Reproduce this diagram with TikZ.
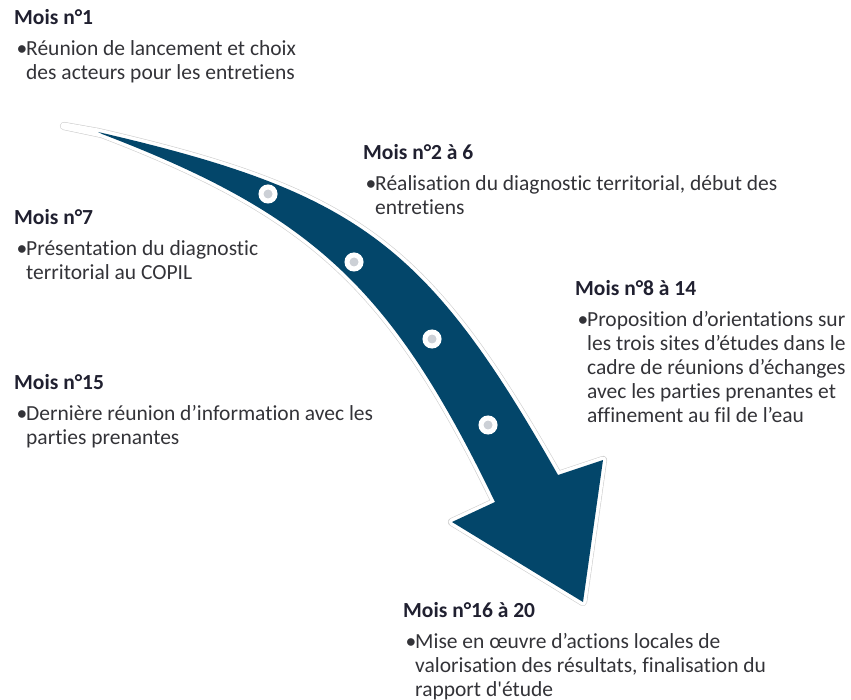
\documentclass[tikz,border=0pt]{standalone}
\usepackage{fontspec}
\setmainfont{Carlito}[RawFeature=-liga,Ligatures=TeXOff]
\usepackage{tikz}
\usetikzlibrary{calc}
\definecolor{petrol}{HTML}{03466A}
\definecolor{ink}{HTML}{333338}
\definecolor{headink}{HTML}{202030}
\definecolor{halogray}{HTML}{CFCFCF}
\definecolor{dotgray}{HTML}{CCD0D6}
\newcommand{\mois}[1]{{\color{headink}\bfseries #1}}
\newcommand{\puce}{\makebox[12pt][l]{\hspace{2.5pt}•}}
\newcommand{\suite}{\hspace*{12pt}}

\begin{document}
\begin{tikzpicture}[x=1pt,y=-1pt]
    \tikzstyle{month node}=[anchor=base west,align=left,inner sep=0,text=ink,font=\fontsize{21.5}{24}\selectfont]
    \tikzstyle{milestone node}=[circle,fill=dotgray,draw=white,line width=5pt,minimum size=14pt,inner sep=0]
    \tikzstyle{arrow halo}=[draw=halogray,line width=.6pt,double=white,double distance=7pt,line join=round]
    \useasboundingbox (0,0) rectangle (851,700);

% arrow outline points
\coordinate (e) at (64,126);
\coordinate (t1) at (98,132);
\coordinate (t2) at (102,134);
\coordinate (n1) at (558,475);
\coordinate (b1) at (603,460);
\coordinate (tip) at (583,602);
\coordinate (b2) at (452,522);
\coordinate (n2) at (495,502);
% curved arrow
\path[arrow halo](e)--(t1) .. controls (358,192) and (427,244) .. (n1)--(b1)--(tip)--(b2)--(n2) .. controls (392,289) and (314,215) .. (t2)--cycle;
\fill[petrol](t1) .. controls (358,192) and (427,244) .. (n1)--(b1)--(tip)--(b2)--(n2) .. controls (392,289) and (314,215) .. (t2)--cycle;
% milestones
\node(d1)[milestone node] at (268,194) {};
\node(d2)[milestone node] at (354,262) {};
\node(d3)[milestone node] at (432,339) {};
\node(d4)[milestone node] at (488,425) {};
% months (placed by the baseline of their last line)
\node(1)[month node] at (14,80) {\mois{Mois n°1}\\[7pt]
    \puce Réunion de lancement et choix\\
    \suite des acteurs pour les entretiens};
\node(2)[month node] at (363,215) {\mois{Mois n°2 à 6}\\[7pt]
    \puce Réalisation du diagnostic territorial, début des\\
    \suite entretiens};
\node(3)[month node] at (14,280) {\mois{Mois n°7}\\[7pt]
    \puce Présentation du diagnostic\\
    \suite territorial au COPIL};
\node(4)[month node] at (575,422) {\mois{Mois n°8 à 14}\\[7pt]
    \puce Proposition d’orientations sur\\
    \suite les trois sites d’études dans le\\
    \suite cadre de réunions d’échanges\\
    \suite avec les parties prenantes et\\
    \suite affinement au fil de l’eau};
\node(5)[month node] at (14,444) {\mois{Mois n°15}\\[7pt]
    \puce Dernière réunion d’information avec les\\
    \suite parties prenantes};
\node(6)[month node] at (403,696) {\mois{Mois n°16 à 20}\\[7pt]
    \puce Mise en œuvre d’actions locales de\\
    \suite valorisation des résultats, finalisation du\\
    \suite rapport d'étude};
\end{tikzpicture}
\end{document}
